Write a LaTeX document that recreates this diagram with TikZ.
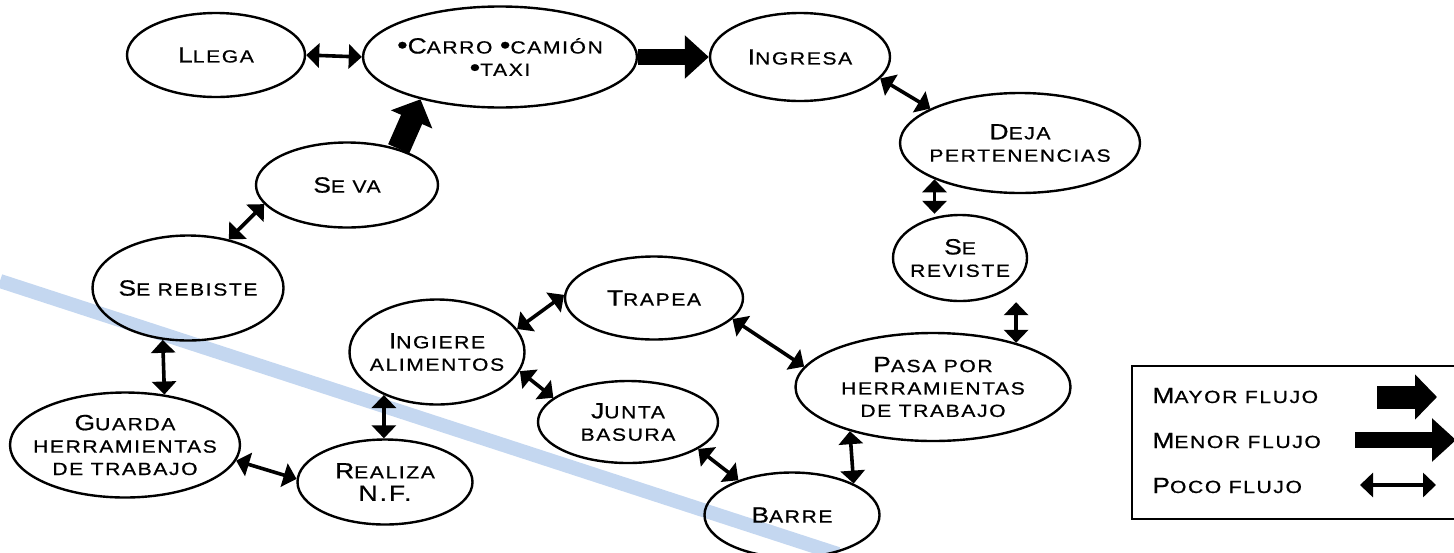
\documentclass[tikz,border=0pt]{standalone}
\usepackage{fontspec}
\setmainfont{Liberation Sans}[FakeStretch=1.2,LetterSpace=9,FakeBold=0.7]
\usetikzlibrary{shapes.geometric,arrows.meta}
\newcommand\bigc[1]{{\fontsize{11}{11.2}\selectfont #1}}
\newcommand\bul{{\fontsize{12.5}{11.2}\selectfont •}}
\definecolor{bandblue}{RGB}{196,215,240}
\begin{document}
\begin{tikzpicture}[x=0.5pt,y=-0.5pt,
  elli/.style={draw, ellipse, line width=1.2pt, inner sep=0pt},
  lbl/.style={align=center, font=\fontsize{8.8}{11.2}\selectfont, inner sep=0pt},
  poco/.style={line width=1.8pt, {Triangle[width=12pt,length=6.5pt]}-{Triangle[width=12pt,length=6.5pt]}},
  mayorflujo/.style={line width=11.5pt, -{Triangle[width=22pt,length=11pt]}},
  menorflujo/.style={line width=8pt, -{Triangle[width=21pt,length=12pt]}}]
\useasboundingbox (0,0) rectangle (1454,552);
\clip (0,0) rectangle (1454,552);
\draw[bandblue, line width=7pt] (0,281) -- (838,554);

% ellipses
\node[elli, minimum width=89pt, minimum height=42pt] (llega) at (216,55) {};
\node[elli, minimum width=137pt, minimum height=50.5pt] (carro) at (500,57) {};
\node[elli, minimum width=90pt, minimum height=44pt] (ingresa) at (800,57) {};
\node[elli, minimum width=120pt, minimum height=50pt] (deja) at (1020,143) {};
\node[elli, minimum width=67pt, minimum height=43pt] (sereviste) at (960,258) {};
\node[elli, minimum width=137.5pt, minimum height=54pt] (pasa) at (933,387) {};
\node[elli, minimum width=87.5pt, minimum height=42.5pt] (barre) at (792,515) {};
\node[elli, minimum width=90pt, minimum height=41pt] (junta) at (628,422) {};
\node[elli, minimum width=89pt, minimum height=41.5pt] (trapea) at (654,298) {};
\node[elli, minimum width=87.5pt, minimum height=52.5pt] (ingiere) at (437,352) {};
\node[elli, minimum width=87.5pt, minimum height=42.5pt] (realiza) at (385,482) {};
\node[elli, minimum width=115pt, minimum height=52.5pt] (guarda) at (125,445) {};
\node[elli, minimum width=95.5pt, minimum height=52.5pt] (serebiste) at (188,288) {};
\node[elli, minimum width=91pt, minimum height=42.5pt] (seva) at (347,185) {};

% texts
\node[lbl] (llega-t) at (llega) {\bigc{L}LEGA};
\node[lbl] (carro-t) at (carro) {\bul\bigc{C}ARRO \bul CAMIÓN\\\bul TAXI};
\node[lbl] (ingresa-t) at (ingresa) {\bigc{I}NGRESA};
\node[lbl] (deja-t) at (deja) {\bigc{D}EJA\\PERTENENCIAS};
\node[lbl] (sereviste-t) at (sereviste) {\bigc{S}E\\REVISTE};
\node[lbl] (pasa-t) at (pasa) {\bigc{P}ASA POR\\HERRAMIENTAS\\DE TRABAJO};
\node[lbl] (barre-t) at (barre) {\bigc{B}ARRE};
\node[lbl] (junta-t) at (junta) {\bigc{J}UNTA\\BASURA};
\node[lbl] (trapea-t) at (trapea) {\bigc{T}RAPEA};
\node[lbl] (ingiere-t) at (ingiere) {\bigc{I}NGIERE\\ALIMENTOS};
\node[lbl] (realiza-t) at (realiza) {\bigc{R}EALIZA\\\bigc{N.F.}};
\node[lbl] (guarda-t) at (guarda) {\bigc{G}UARDA\\HERRAMIENTAS\\DE TRABAJO};
\node[lbl] (serebiste-t) at (serebiste) {\bigc{S}E REBISTE};
\node[lbl] (seva-t) at (seva) {\bigc{S}E VA};

% connectors
\draw[poco] (llega.east) -- (carro.west);
\draw[menorflujo] (carro.east) -- (ingresa.west);
\draw[mayorflujo] (seva.35) -- (carro.-152);
\draw[poco] (ingresa.-15) -- (deja.159);
\draw[poco] (deja.-157) -- (deja.-157 |- sereviste.north);
\draw[poco] (pasa.28) -- (pasa.28 |- sereviste.south);
\draw[poco] (trapea.-15) -- (pasa.171);
\draw[poco] (pasa.-152) -- (barre.27);
\draw[poco] (junta.-21) -- (barre.147);
\draw[poco] (ingiere.-13) -- (junta.162);
\draw[poco] (ingiere.16) -- (trapea.178);
\draw[poco] (ingiere.-141) -- (ingiere.-141 |- realiza.north);
\draw[poco] (guarda.-8) -- (realiza.178);
\draw[poco] (serebiste.-116) -- (guarda.52);
\draw[poco] (serebiste.50) -- (seva.-167);

% legend
\node[draw, line width=1pt, anchor=north west, minimum width=170pt, minimum height=76.5pt, inner sep=0pt] (legend) at (1131,365) {};
\node[lbl, anchor=base west] (mayor-t) at (1152,403) {\bigc{M}AYOR FLUJO};
\node[lbl, anchor=base west] (menor-t) at (1152,448) {\bigc{M}ENOR FLUJO};
\node[lbl, anchor=base west] (poco-t) at (1152,493) {\bigc{P}OCO FLUJO};
\coordinate (ma1) at (1377,397);
\coordinate (ma2) at (1437,397);
\coordinate (me1) at (1355,440);
\coordinate (me2) at (1456,440);
\coordinate (po1) at (1360,485);
\coordinate (po2) at (1436,485);
\draw[mayorflujo] (ma1) -- (ma2);
\draw[menorflujo] (me1) -- (me2);
\draw[poco] (po1) -- (po2);
\end{tikzpicture}
\end{document}
